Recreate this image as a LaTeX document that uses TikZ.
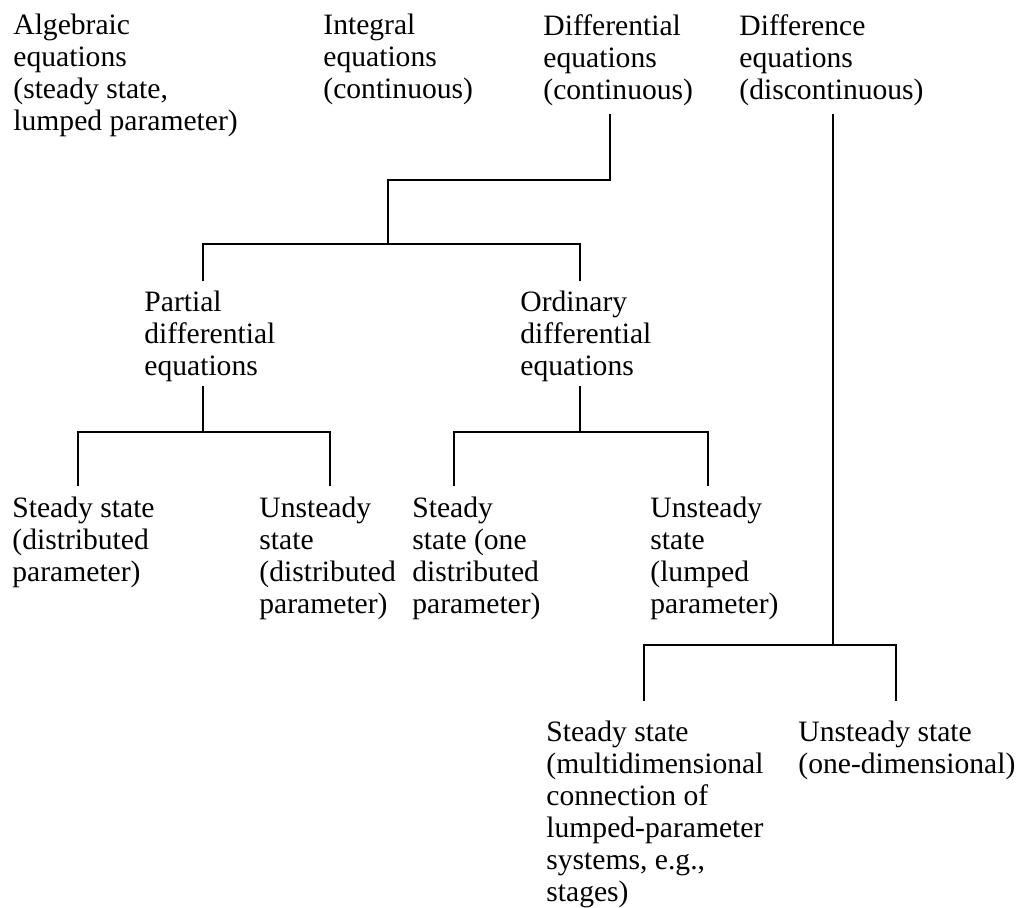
\documentclass[tikz,border=0pt]{standalone}
\usepackage{fontspec}
\setmainfont{Liberation Serif}
\usepackage{tikz}
\tikzset{
  eqtype/.style={anchor=north west,inner sep=0pt,align=left,
                 font=\fontsize{14.8}{16}\selectfont},
  branch/.style={line width=1.3pt,line cap=rect},
}

\begin{document}
\begin{tikzpicture}[
    x=0.5pt,y=-0.5pt,
    ]
  \useasboundingbox (0,0) rectangle (1018,908);

  % top row
  \node[eqtype] (alg) at (13,14)
      {Algebraic\\equations\\(steady state,\\lumped parameter)};
  \node[eqtype] (integ) at (323,14)
      {Integral\\equations\\(continuous)};
  \node[eqtype] (diffl) at (543,14)
      {Differential\\equations\\(continuous)};
  \node[eqtype] (diffc) at (739,14)
      {Difference\\equations\\(discontinuous)};

  % second row
  \node[eqtype] (pde) at (144,291)
      {Partial\\differential\\equations};
  \node[eqtype] (ode) at (520,291)
      {Ordinary\\differential\\equations};

  % third row
  \node[eqtype] (pdess) at (12,497)
      {Steady state\\(distributed\\parameter)};
  \node[eqtype] (pdeus) at (259,497)
      {Unsteady\\state\\(distributed\\parameter)};
  \node[eqtype] (odess) at (412,497)
      {Steady\\state (one\\distributed\\parameter)};
  \node[eqtype] (odeus) at (650,497)
      {Unsteady\\state\\(lumped\\parameter)};

  % bottom row
  \node[eqtype] (dess) at (546,721)
      {Steady state\\(multidimensional\\connection of\\lumped-parameter\\systems, e.g.,\\stages)};
  \node[eqtype] (deus) at (798,721)
      {Unsteady state\\(one-dimensional)};

  % differential equations split
  \draw[branch] ([shift={(67,101)}]diffl.north west) -- ++(0,65)
      -| ++(-222,64) coordinate (dlFork);
  \draw[branch] ([shift={(59,-11)}]pde.north west) |- (dlFork)
      -| ([shift={(60,-11)}]ode.north west);

  \draw[branch] ([shift={(59,96)}]pde.north west) -- ++(0,45)
      coordinate (pdeFork);
  \draw[branch] ([shift={(66,-12)}]pdess.north west) |- (pdeFork)
      -| ([shift={(71,-12)}]pdeus.north west);

  \draw[branch] ([shift={(60,96)}]ode.north west) -- ++(0,45)
      coordinate (odeFork);
  \draw[branch] ([shift={(42,-12)}]odess.north west) |- (odeFork)
      -| ([shift={(58,-12)}]odeus.north west);

  % difference equations split
  \draw[branch] ([shift={(94,101)}]diffc.north west) -- ++(0,530)
      coordinate (dcFork);
  \draw[branch] ([shift={(98,-21)}]dess.north west) |- (dcFork)
      -| ([shift={(98,-21)}]deus.north west);
\end{tikzpicture}
\end{document}
